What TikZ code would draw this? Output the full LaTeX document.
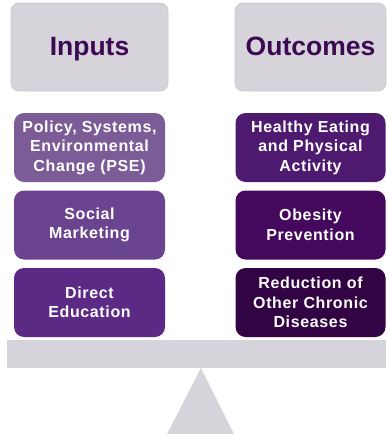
\documentclass[tikz,border=0pt]{standalone}
\usepackage{fontspec}
\setmainfont{Liberation Sans}[BoldFont={Liberation Sans Bold}]
\newfontfamily\boxfont{Liberation Sans Bold}[LetterSpace=4]
\newfontfamily\headfont{Liberation Sans Bold}
\definecolor{graybox}{HTML}{D6D3DB}
\definecolor{grayedge}{HTML}{CDCAD2}
\definecolor{headtext}{HTML}{3B0A52}
\definecolor{inA}{HTML}{7B5C97}
\definecolor{inB}{HTML}{6B4490}
\definecolor{inC}{HTML}{5C2A84}
\definecolor{outA}{HTML}{4E1A70}
\definecolor{outB}{HTML}{44095C}
\definecolor{outC}{HTML}{330444}
\tikzset{
  headbox/.style={draw=grayedge, line width=0.8pt, fill=graybox, rounded corners=8pt,
    minimum height=88pt, inner sep=0pt, text=headtext, text height=19pt, text depth=3pt,
    font=\headfont\fontsize{26.5}{30}\selectfont},
  itembox/.style={rounded corners=10pt, minimum height=69pt, inner sep=0pt,
    text=white, align=center,
    font=\boxfont\fontsize{16}{19.5}\selectfont},
  scalepart/.style={fill=graybox, draw=none}
}
\begin{document}
\begin{tikzpicture}[x=1pt,y=-1pt]
\useasboundingbox (0,0) rectangle (386,434);
% header boxes
\node[headbox, minimum width=157pt] (inputs) at (89.5,47) {Inputs};
\node[headbox, minimum width=151pt] (outcomes) at (310.5,47) {Outcomes};
% input boxes
\node[itembox, fill=inA, minimum width=151pt] (pse) at (89.5,147.5) {Policy, Systems,\\Environmental\\Change (PSE)};
\node[itembox, fill=inB, minimum width=151pt] (social) at (89.5,225) {Social\\Marketing};
\node[itembox, fill=inC, minimum width=151pt] (direct) at (89.5,302.5) {Direct\\Education};
% outcome boxes
\node[itembox, fill=outA, minimum width=150pt] (healthy) at (310.5,147.5) {Healthy Eating\\and Physical\\Activity};
\node[itembox, fill=outB, minimum width=150pt] (obesity) at (310.5,225) {Obesity\\Prevention};
\node[itembox, fill=outC, minimum width=150pt] (chronic) at (310.5,302.5) {Reduction of\\Other Chronic\\Diseases};
% scale
\fill[scalepart] (7,340) rectangle (386,368);
\fill[scalepart] (201,368) -- (234,434) -- (167,434) -- cycle;
\end{tikzpicture}
\end{document}
